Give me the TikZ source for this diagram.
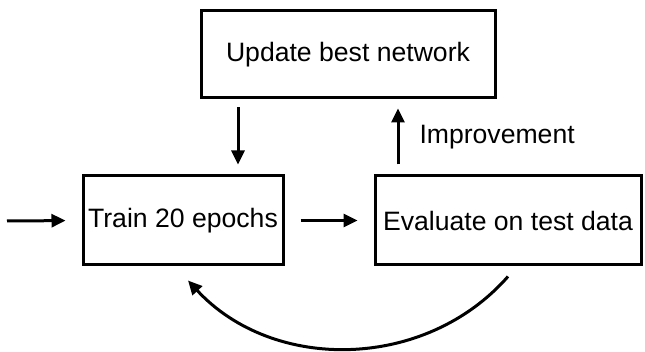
\documentclass[tikz,border=0pt]{standalone}
\usepackage{fontspec}
\setmainfont{Liberation Sans}
\usetikzlibrary{arrows.meta}

\tikzset{
  boite/.style={draw, line width=3pt, inner sep=0pt,
    font=\fontsize{26.6}{30}\selectfont},
  fleche/.style={line width=3pt, -{Triangle[length=14pt, width=13pt]}}
}

\begin{document}
\begin{tikzpicture}[x=1pt, y=-1pt]
    \useasboundingbox (0,0) rectangle (645,352);

    % Boites
    \node[boite, minimum width=294pt, minimum height=87pt] (update) at (348,54.5) {Update best network};
    \node[boite, minimum width=200pt, minimum height=89pt] (train) at (183,220.5) {Train 20 epochs};
    \node[boite, minimum width=266pt, minimum height=89pt] (eval) at (508,220.5) {Evaluate on test data};

    % Entree
    \coordinate (entree) at (7,221);
    \draw[fleche, shorten >=16pt] (entree) -- (train.west);

    % Fleches droites
    \draw[fleche, shorten <=16pt, shorten >=16pt] (train.east) -- (eval.west);
    \draw[fleche, shorten <=8pt, shorten >=10pt] ([xshift=-110pt]update.south) -- ([xshift=55pt]train.north);
    \draw[fleche, shorten <=10pt, shorten >=9pt] ([xshift=-110pt]eval.north) -- ([xshift=50pt]update.south)
      node[right=20pt, pos=0.5, inner sep=0pt, font=\fontsize{26.6}{30}\selectfont] (gain) {Improvement};

    % Retour
    \draw[fleche] ([yshift=-10pt]eval.south) to[bend left=48] ([xshift=5pt, yshift=-14pt]train.south);
  \end{tikzpicture}
\end{document}
